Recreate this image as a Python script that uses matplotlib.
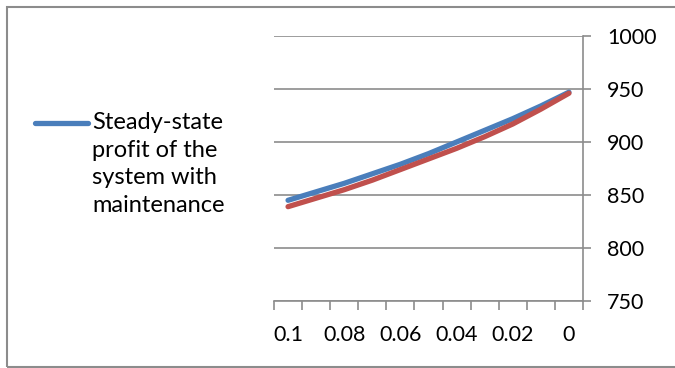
import matplotlib
matplotlib.use("Agg")
import matplotlib.pyplot as plt
import numpy as np
from matplotlib.lines import Line2D
from matplotlib.patches import Rectangle

# data
categories = ["0.1", "0.09", "0.08", "0.07", "0.06", "0.05", "0.04", "0.03", "0.02", "0.01", "0"]
profit_maint = [845, 853, 861, 870, 879, 889, 900, 911, 922, 934, 947]
profit_other = [839, 847, 855, 864, 874, 884, 894, 905, 917, 931, 946]
legend_label = "Steady-state\nprofit of the\nsystem with\nmaintenance"
y_ticks = [750, 800, 850, 900, 950, 1000]

plt.rcParams["font.family"] = ["Lato", "DejaVu Sans"]
W, H = 675, 368
fig = plt.figure(figsize=(W / 100, H / 100), dpi=100)

grey = "#8c8c8c"
blue = "#4a7ebb"
red = "#c0504d"

# chart border
fig.add_artist(Rectangle((7 / W, 1 - 366.5 / H), 1.0, 360 / H, transform=fig.transFigure,
                         fill=False, edgecolor=grey, lw=1.5))

ax = fig.add_axes([274 / W, 1 - 301 / H, 309 / W, 265 / H])
x = np.arange(len(categories))
ax.plot(x, profit_maint, color=blue, lw=3.8, solid_capstyle="round", zorder=3)
ax.plot(x, profit_other, color=red, lw=3.8, solid_capstyle="round", zorder=4)

ax.set_xlim(-0.5, len(categories) - 0.5)
ax.set_ylim(750, 1000)
ax.set_facecolor("none")

# category axis: tick marks between categories, labels on every other one
ax.set_xticks(np.arange(len(categories) + 1) - 0.5)
ax.set_xticklabels([])
ax.set_xticks(x[::2], minor=True)
ax.set_xticklabels(categories[::2], minor=True)
ax.tick_params(axis="x", which="major", direction="out", length=6.5, width=1.2, color=grey)
ax.tick_params(axis="x", which="minor", length=0, pad=17, labelsize=15.5)

ax.yaxis.tick_right()
ax.set_yticks(y_ticks)
ax.tick_params(axis="y", direction="out", length=5.5, width=1.2, color=grey, pad=12, labelsize=15.5)
ax.grid(axis="y", color=grey, lw=1.2)
ax.set_axisbelow(True)

for s in ["left", "top"]:
    ax.spines[s].set_visible(False)
for s in ["right", "bottom"]:
    ax.spines[s].set_color(grey)
    ax.spines[s].set_linewidth(1.2)

# legend, only the first series is visible in the reference
fig.add_artist(Line2D([35 / W, 88 / W], [1 - 123 / H, 1 - 123 / H], transform=fig.transFigure,
                      color=blue, lw=3.8, solid_capstyle="round"))
fig.text(92 / W, 1 - 112.5 / H, legend_label, fontsize=17, va="top", ha="left", linespacing=1.38)

fig.savefig("out.png", dpi=100)
